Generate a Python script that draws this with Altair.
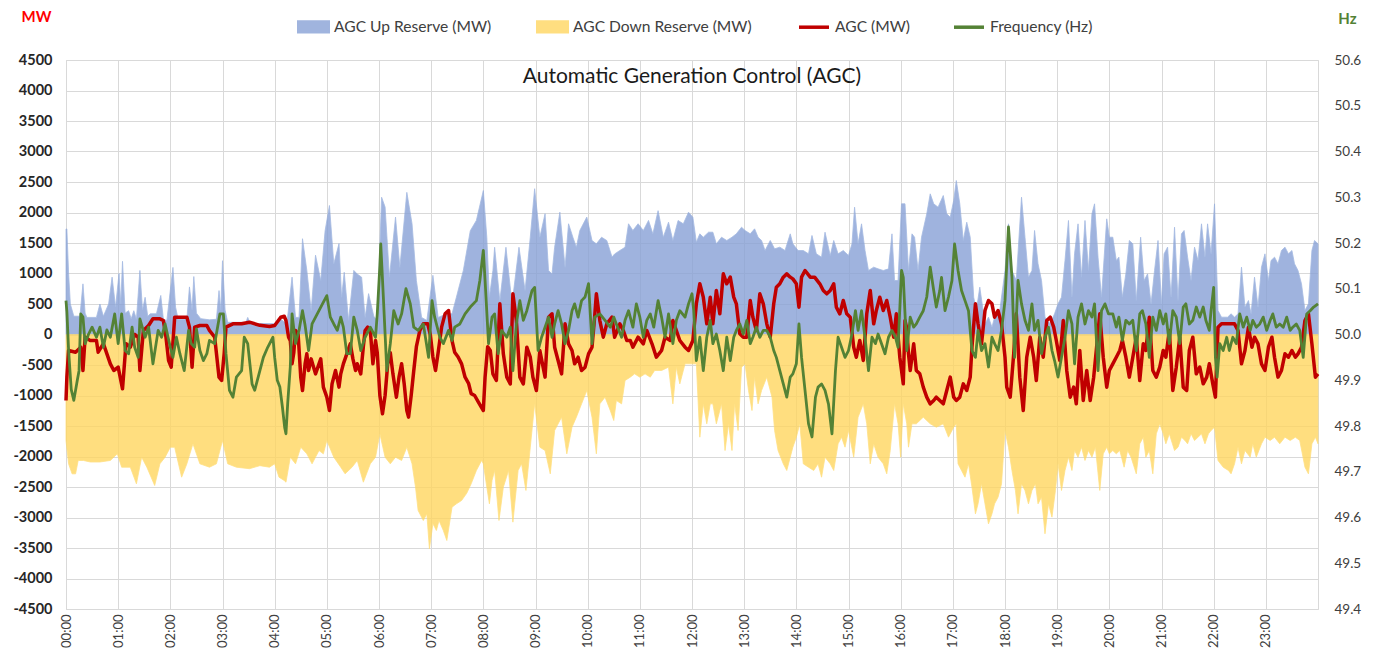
import altair as alt
import pandas as pd

# ---------------- data (time in minutes after 00:00, value) ----------------
up_reserve = [
    (0, 1730), (1, 1730), (3, 1000), (5, 500), (9, 300), (16, 300), (19.5, 830), (22, 350), (24, 280), (35, 280),
    (39, 500), (43, 300), (49, 500), (53, 940), (57, 450), (61, 1000), (63, 500), (65, 1200), (68, 350), (72, 390),
    (75, 260), (78, 390), (81, 250), (85, 1050), (88, 400), (91, 610), (94, 300), (97, 340), (104, 340), (109, 640),
    (112, 250), (116, 230), (123, 1100), (126, 450), (129, 250), (139, 250), (142, 780), (145, 400), (147, 950), (150, 350),
    (155, 260), (165, 240), (173, 250), (176, 720), (178, 400), (180, 1210), (183, 400), (186, 200), (207, 200), (209, 280),
    (212, 180), (235, 180),
    (240, 175), (247, 250), (254, 175), (260, 940), (264, 280), (268, 280), (272, 1570), (277, 1050), (282, 390), (287, 1300),
    (293, 885), (298, 1700), (303, 2115), (308, 1160), (314, 1490), (317, 610), (320, 1020), (325, 230), (331, 1050), (335, 990),
    (340, 940), (344, 280), (348, 670), (354, 300), (358, 230), (363, 2250), (367, 2090), (372, 940), (379, 1925), (384, 1100),
    (392, 2330), (398, 1815), (403, 885), (409, 280), (415, 230), (422, 970), (428, 280), (438, 340), (444, 340), (449, 610),
    (457, 1050), (465, 1700), (472, 1870), (480, 2360),
    (484, 1595), (487, 610), (491, 1050), (493, 1430), (499, 550), (506, 1430), (513, 500), (521, 1430), (528, 720), (534, 1595),
    (539, 2390), (545, 1595), (551, 1980), (555, 1050), (559, 990), (562, 1430), (568, 2005), (574, 1100), (578, 1815), (583, 1595),
    (587, 1430), (591, 1705), (599, 1925), (605, 1540), (610, 1486), (616, 1595), (622, 1540), (628, 1270), (631, 1320), (637, 1377),
    (643, 1430), (647, 1815), (652, 1705), (658, 1815), (664, 1705), (670, 1870), (675, 1650), (681, 2030), (687, 1595), (693, 1841),
    (698, 1540), (704, 1869), (710, 1814), (716, 2005), (721, 1923),
    (725, 1514), (729, 1650), (733, 1595), (739, 1677), (744, 1677), (748, 1486), (754, 1595), (760, 1541), (766, 1595), (771, 1650),
    (777, 1759), (781, 1705), (787, 1650), (792, 1732), (796, 1595), (800, 1541), (804, 1377), (810, 1541), (815, 1404), (821, 1432),
    (827, 1377), (833, 1650), (836, 1486), (842, 1377), (848, 1377), (854, 1322), (858, 1623), (863, 1322), (869, 1268), (873, 1677),
    (879, 1295), (883, 1541), (888, 1322), (894, 1377), (900, 1295), (904, 1486), (907, 2087), (911, 1486), (915, 1814), (919, 1377),
    (923, 1049), (929, 1104), (934, 1076), (940, 1049), (946, 1076), (950, 1650), (953, 885), (957, 885), (961, 2142),
    (965, 2142), (969, 1049), (973, 1650), (976, 1595), (980, 1049), (984, 1595), (990, 1978), (994, 2306), (998, 2142), (1003, 2087),
    (1009, 2278), (1013, 1978), (1017, 1923), (1021, 2197), (1024, 2524), (1028, 2142), (1032, 1541), (1036, 1841), (1040, 1595), (1044, 612),
    (1047, 393), (1051, 776), (1057, 175), (1061, 284), (1065, 120), (1068, 284), (1074, 393), (1080, 1049), (1084, 1814), (1088, 1049),
    (1093, 885), (1099, 2251), (1103, 1595), (1107, 940), (1111, 1049), (1114, 1705), (1118, 1158), (1122, 885), (1126, 284), (1132, 175),
    (1137, 339), (1141, 503), (1145, 612), (1149, 1213), (1153, 1869), (1157, 612), (1160, 1322), (1164, 1814), (1168, 940), (1172, 1869),
    (1176, 1049), (1180, 1978), (1183, 2142), (1187, 1268), (1191, 612), (1197, 1896),
    (1200, 1595), (1204, 1595), (1208, 1213), (1211, 1268), (1215, 612), (1219, 994), (1223, 1541), (1227, 1486), (1231, 557), (1236, 1595),
    (1240, 885), (1244, 994), (1248, 503), (1252, 1049), (1256, 1541), (1260, 503), (1263, 1322), (1267, 1432), (1271, 612), (1275, 1759),
    (1279, 557), (1283, 1650), (1286, 1705), (1290, 1268), (1294, 885), (1298, 1432), (1302, 1213), (1306, 1814), (1310, 1268), (1313, 1814),
    (1317, 1322), (1321, 2142), (1325, 393), (1329, 284), (1333, 284), (1336, 284), (1340, 339), (1344, 284), (1348, 339), (1352, 1104),
    (1356, 448), (1360, 557), (1363, 339), (1367, 940), (1371, 448), (1375, 1104), (1379, 1322), (1383, 885), (1386, 1213), (1390, 1268),
    (1394, 1158), (1398, 1377), (1402, 1432), (1406, 1322), (1410, 1377), (1413, 1158), (1417, 1049), (1421, 831), (1425, 393), (1429, 503),
    (1433, 1377), (1436, 1541), (1440, 1486),
]

down_reserve = [
    (0, -1740), (3, -2120), (7, -2284), (11, -2284), (14, -2065), (20, -2065), (28, -2090), (39, -2090), (51, -2065), (59, -1956),
    (64, -2175), (74, -2175), (81, -2448), (87, -2011), (93, -2175), (102, -2475), (108, -2120), (114, -2011), (120, -1847), (125, -1850),
    (133, -2339), (139, -2120), (146, -1792), (154, -2120), (165, -2175), (173, -2120), (180, -1738), (186, -2120), (196, -2175), (211, -2200),
    (223, -2150), (234, -2175),
    (240, -2120), (245, -2339), (251, -2393), (253, -2421), (258, -2011), (264, -2120), (270, -1847), (277, -1956), (283, -2120), (291, -1902),
    (296, -1956), (300, -1738), (308, -2011), (316, -2175), (321, -2284), (329, -2175), (335, -2065), (342, -2421), (350, -2120), (356, -2011),
    (361, -1628), (367, -2011), (373, -2120), (379, -2011), (386, -2065), (392, -1847), (398, -2120), (402, -2503), (405, -2885), (411, -3049),
    (415, -2940), (418, -3513), (422, -3100), (426, -3213), (429, -3049), (434, -3213), (438, -3377), (444, -2830), (449, -2776), (455, -2721),
    (461, -2600), (466, -2448), (472, -2229), (478, -2065),
    (480, -2120), (484, -2500), (487, -2776), (490, -2393), (493, -2229), (498, -3049), (503, -2503), (509, -2229), (514, -3076), (520, -2229),
    (524, -2120), (529, -2557), (534, -1847), (539, -1137), (545, -1847), (551, -1902), (557, -2284), (562, -1574), (570, -1355), (576, -1956),
    (582, -1519), (587, -1355), (593, -1137), (599, -918), (605, -1355), (610, -1956), (614, -1137), (620, -1027), (626, -1246), (630, -1410),
    (633, -1082), (639, -1137), (643, -754), (649, -699), (654, -645), (660, -699), (666, -645), (672, -699), (677, -590), (685, -590),
    (693, -535), (698, -1137), (702, -535), (706, -809), (712, -481), (718, -481),
    (720, -481), (725, -481), (729, -1683), (733, -1137), (737, -1464), (741, -1137), (744, -1137), (748, -1464), (754, -1137), (758, -1902),
    (762, -1464), (766, -1902), (769, -1137), (773, -1574), (777, -535), (781, -481), (785, -918), (789, -1246), (792, -699), (796, -1137),
    (800, -918), (806, -699), (812, -1027), (815, -1574), (819, -1902), (825, -2120), (829, -2229), (833, -2011), (836, -1847), (840, -1683),
    (844, -1464), (848, -2120), (854, -2175), (860, -2229), (865, -2120), (869, -2339), (873, -2011), (879, -2120), (883, -2229), (888, -1792),
    (892, -1683), (896, -1847), (900, -1574), (906, -2011), (911, -1355), (917, -1137), (921, -1464), (925, -2120), (929, -1792), (934, -2011),
    (940, -2120), (944, -2284), (948, -1902), (953, -1137), (957, -1464),
    (960, -2011), (963, -1137), (967, -1464), (969, -1847), (973, -1464), (978, -1464), (986, -1355), (994, -1464), (1001, -1519), (1009, -1464),
    (1015, -1683), (1021, -1519), (1024, -1464), (1026, -2120), (1030, -2229), (1034, -2339), (1038, -2120), (1042, -2503), (1046, -2940), (1049, -2776),
    (1053, -2448), (1057, -2776), (1061, -3104), (1065, -2940), (1068, -2776), (1072, -2666), (1076, -2448), (1080, -1574), (1084, -1847), (1088, -2229),
    (1092, -2557), (1095, -2940), (1099, -2448), (1103, -2557), (1107, -2776), (1111, -2557), (1115, -2448), (1118, -2776), (1122, -2666), (1126, -3267),
    (1130, -2776), (1134, -2994), (1138, -2557), (1141, -2120), (1145, -2557), (1149, -2229), (1153, -2011), (1157, -2229), (1160, -1902), (1164, -2011),
    (1168, -1847), (1172, -2065), (1176, -1902), (1180, -2011), (1184, -1847), (1189, -2557), (1193, -1956), (1197, -1847),
    (1200, -1956), (1204, -1902), (1208, -1956), (1212, -1902), (1217, -2175), (1221, -1902), (1225, -2011), (1231, -2284), (1235, -1792), (1239, -1683),
    (1242, -2011), (1246, -1902), (1250, -2284), (1254, -1628), (1258, -1464), (1262, -1628), (1265, -1792), (1269, -1628), (1275, -1902), (1279, -1847),
    (1283, -1683), (1287, -1738), (1290, -1792), (1294, -1628), (1298, -1738), (1302, -1683), (1306, -1628), (1310, -1792), (1314, -1628), (1317, -1574),
    (1321, -1519), (1325, -2065), (1331, -2175), (1337, -2229), (1340, -2284), (1344, -2120), (1348, -1847), (1352, -2120), (1356, -1902), (1362, -2011),
    (1365, -1792), (1369, -2011), (1375, -1792), (1379, -1683), (1385, -1738), (1390, -1683), (1396, -1792), (1402, -1683), (1408, -1738), (1414, -1683),
    (1419, -1738), (1425, -2175), (1429, -2284), (1433, -1792), (1437, -1683), (1440, -1792),
]

agc = [
    (0, -1082), (1, -700), (3, -262), (11, -290), (17, -208), (19.5, -590), (22, -44), (28, -100), (35, -100), (37, -290),
    (43, -150), (51, -481), (55, -590), (60, -535), (65, -891), (69, -150), (74, -208), (79, 0), (83, -44), (85, -590),
    (89, 66), (95, 148), (100, 257), (108, 257), (112, 229), (115, -44), (118, -426), (121, -535), (125, 284), (133, 284),
    (139, 284), (142, 120), (145, -535), (148, 120), (154, 148), (162, 148), (165, 66), (171, -44), (176, -700), (179, -754),
    (182, -300), (184, 120), (192, 175), (202, 175), (211, 202), (223, 150), (234, 130),
    (240, 148), (247, 284), (251, 300), (253, 230), (256, -44), (258, -100), (260, -481), (262, -300), (264, 66), (267, 0),
    (270, -700), (272, -918), (275, -481), (277, -317), (279, -590), (282, -400), (284, -500), (287, -645), (291, -481), (293, -400),
    (296, -863), (300, -1027), (303, -1246), (306, -809), (310, -590), (314, -863), (316, -645), (319, -481), (323, -317), (327, -153),
    (330, -400), (333, -590), (335, -480), (339, -645), (342, -200), (344, 66), (347, 120), (350, 66), (353, -480), (356, -100),
    (358, -300), (361, -1000), (364, -1300), (367, -1000), (370, -481), (373, -300), (376, -645), (380, -1027), (383, -700), (386, -481),
    (389, -810), (392, -1246), (394, -1355), (397, -1000), (400, -590), (403, -200), (407, 66), (411, 175), (416, 175), (419, 0),
    (422, -370), (425, -590), (428, -300), (432, 120), (436, 339), (440, 393), (444, -100), (447, -290), (451, -370), (455, -481),
    (459, -700), (463, -800), (466, -970), (470, -1000), (474, -1100), (478, -1200),
    (480, -1246), (482, -700), (485, -200), (488, -262), (491, -645), (495, -754), (499, 503), (503, -317), (507, -699), (511, -809),
    (514, 667), (518, 229), (522, -699), (526, -809), (530, -208), (534, -372), (537, -699), (541, -918), (545, -262), (551, -699),
    (555, 284), (559, 339), (562, -208), (566, -426), (570, -645), (574, 175), (578, -153), (582, -262), (585, -481), (589, -372),
    (593, -590), (597, -535), (601, -317), (605, -208), (608, 284), (610, 667), (614, 229), (618, -44), (622, 175), (628, 284),
    (631, -44), (637, 175), (641, 66), (645, -98), (649, -98), (652, -208), (658, -44), (664, -153), (668, 66), (674, -153),
    (679, -372), (685, -262), (689, -44), (695, -98), (698, 229), (702, 66), (706, -98), (712, -208), (716, -262), (721, -98),
    (725, 503), (729, 831), (733, 612), (737, 175), (741, 612), (744, 175), (748, 721), (752, 339), (756, 994), (760, 831),
    (764, 940), (768, 612), (771, 503), (775, 11), (779, -44), (783, -44), (787, 557), (790, 284), (794, 66), (798, 667),
    (802, 503), (806, 175), (810, -44), (814, 503), (817, 776), (821, 831), (825, 940), (829, 994), (833, 940), (836, 912),
    (840, 831), (843, 448), (846, 940), (850, 1049), (856, 940), (861, 940), (867, 831), (871, 721), (875, 667), (879, 721),
    (883, 831), (886, 448), (890, 339), (894, 557), (898, 339), (902, 284), (906, -208), (909, -372), (913, -98), (917, -426),
    (921, 339), (925, 721), (929, 175), (932, 393), (936, 612), (940, 393), (944, 557), (948, 284), (952, -44), (955, 339),
    (959, -372), (963, -809),
    (965, 229), (967, 100), (969, -317), (971, -590), (975, -153), (978, -590), (982, -645), (986, -863), (990, -1027), (994, -1137),
    (998, -1082), (1001, -1027), (1005, -1082), (1009, -1137), (1013, -918), (1017, -699), (1021, -1027), (1024, -1082), (1028, -1027), (1032, -809),
    (1036, -918), (1040, -699), (1042, -208), (1046, 503), (1049, 175), (1053, -153), (1057, 393), (1061, 557), (1065, 503), (1068, 284),
    (1072, 393), (1076, 175), (1080, -372), (1082, -863), (1086, -1027), (1090, -317), (1093, 339), (1097, -699), (1101, -1246), (1105, -372),
    (1109, -44), (1113, -372), (1116, -754), (1120, -44), (1124, -372), (1128, 229), (1132, 284), (1136, 120), (1139, -98), (1143, -426),
    (1147, 229), (1151, -590), (1155, -1027), (1159, -863), (1162, -1137), (1166, -262), (1170, -1082), (1174, -590), (1178, -1082), (1182, -699),
    (1185, -262), (1189, 339), (1193, -372), (1197, -863),
    (1200, -590), (1204, -481), (1208, -372), (1212, -262), (1215, -98), (1219, -372), (1223, -699), (1227, -372), (1231, -44), (1235, -754),
    (1239, -153), (1242, -262), (1246, 284), (1250, -590), (1254, -699), (1258, -535), (1262, -262), (1265, -372), (1269, 66), (1273, -918),
    (1277, -535), (1281, -44), (1285, -863), (1289, -918), (1292, -262), (1296, -44), (1300, -645), (1304, -535), (1308, -809), (1312, -699),
    (1315, -481), (1319, -809), (1322, -1027), (1325, 120), (1329, 175), (1333, 175), (1337, 175), (1340, 175), (1344, 175), (1348, 66),
    (1352, -481), (1356, -262), (1360, 120), (1364, -208), (1367, -44), (1371, -153), (1375, -481), (1379, -590), (1383, -208), (1387, -44),
    (1390, -372), (1394, -699), (1398, -590), (1402, -317), (1406, -372), (1410, -262), (1414, -372), (1417, -317), (1421, -208), (1425, 229),
    (1429, 339), (1433, -153), (1437, -699), (1440, -645),
]

frequency = [
    (0, 50.074), (1, 50.05), (3, 49.965), (6, 49.88), (9, 49.856), (13, 49.90), (15, 49.921), (17, 50.045), (19.5, 50.038), (22, 49.980),
    (26, 50.001), (30, 50.016), (35, 49.994), (39, 50.016), (43, 49.972), (47, 50.01), (51, 49.994), (56, 50.045), (60, 49.980), (64, 50.045),
    (68, 49.965), (72, 49.958), (76, 50.016), (79, 49.972), (83, 49.950), (85, 50.034), (91, 49.994), (95, 50.016), (100, 49.936), (106, 50.009),
    (110, 49.994), (114, 50.023), (120, 49.972), (123, 49.950), (127, 49.994), (131, 49.958), (136, 49.921), (141, 50.009), (144, 49.980), (148, 49.972),
    (150, 50.012), (154, 49.965), (158, 49.943), (162, 49.958), (165, 49.987), (171, 49.980), (177, 50.045), (181, 50.045), (184, 49.958), (188, 49.878),
    (192, 49.863), (196, 49.907), (202, 49.921), (205, 49.994), (209, 49.980), (214, 49.892), (217, 49.878), (223, 49.921), (227, 49.950), (232, 49.972),
    (238, 49.994),
    (240, 49.95), (243, 49.90), (246, 49.885), (249, 49.84), (251.5, 49.797), (253, 49.783), (255, 49.85), (258, 49.93), (260, 50.045), (264, 49.980),
    (268, 50.009), (272, 50.052), (275, 50.02), (279, 49.965), (283, 50.023), (289, 50.045), (295, 50.067), (300, 50.085), (304, 50.038), (308, 50.023),
    (312, 50.009), (316, 50.038), (319, 50.016), (323, 49.958), (327, 49.958), (331, 50.038), (335, 50.009), (339, 49.965), (344, 49.994), (350, 50.016),
    (356, 49.994), (358, 50.045), (361, 50.15), (362, 50.198), (365, 50.082), (369, 49.921), (373, 49.980), (377, 50.052), (382, 50.023), (386, 50.045),
    (391, 50.100), (396, 50.067), (400, 50.016), (405, 50.009), (411, 50.023), (417, 49.950), (421, 50.074), (424, 50.038), (430, 49.994), (434, 49.980),
    (440, 50.009), (444, 49.987), (447, 50.016), (453, 50.023), (459, 50.045), (465, 50.060), (472, 50.074), (476, 50.118), (480, 50.184),
    (482, 50.118), (486, 49.980), (490, 50.038), (493, 50.045), (497, 49.958), (501, 50.009), (507, 49.994), (511, 50.016), (514, 49.921), (518, 50.023),
    (522, 50.074), (526, 50.031), (530, 50.052), (536, 50.096), (539, 50.103), (543, 49.965), (547, 49.994), (551, 50.016), (555, 50.038), (559, 49.994),
    (562, 50.023), (566, 50.052), (570, 50.023), (574, 49.980), (578, 50.009), (582, 50.052), (585, 50.067), (589, 50.038), (593, 50.074), (597, 50.082),
    (601, 50.111), (605, 49.980), (608, 50.038), (614, 50.045), (620, 50.031), (626, 50.016), (630, 50.038), (633, 50.023), (639, 49.994), (643, 50.031),
    (647, 50.052), (652, 50.016), (656, 50.067), (660, 50.038), (664, 49.994), (668, 50.031), (672, 50.045), (676, 50.016), (681, 50.074), (685, 50.038),
    (689, 49.994), (693, 50.045), (698, 49.980), (702, 50.031), (706, 50.052), (712, 50.038), (716, 50.067), (720, 50.089),
    (722, 50.052), (725, 49.943), (729, 49.994), (733, 49.921), (737, 49.994), (741, 50.031), (744, 49.980), (748, 50.001), (752, 49.965), (756, 49.921),
    (760, 49.994), (764, 49.943), (768, 49.994), (771, 50.009), (775, 50.023), (779, 50.001), (783, 50.031), (787, 49.980), (790, 49.994), (794, 50.016),
    (798, 49.994), (802, 50.009), (806, 50.009), (810, 49.994), (814, 49.965), (817, 49.950), (821, 49.921), (825, 49.892), (829, 49.863), (833, 49.907),
    (836, 49.914), (840, 49.936), (843, 50.023), (846, 49.950), (850, 49.878), (854, 49.805), (858, 49.776), (862, 49.863), (865, 49.885), (869, 49.892),
    (873, 49.878), (877, 49.848), (881, 49.783), (885, 49.921), (888, 49.994), (892, 49.972), (896, 49.950), (900, 49.965), (904, 50.001), (908, 50.052),
    (911, 50.009), (915, 50.052), (919, 49.994), (923, 49.921), (927, 49.994), (931, 49.980), (934, 50.001), (938, 49.980), (942, 49.958), (946, 49.994),
    (950, 50.009), (954, 49.994), (957, 49.972), (961, 50.140),
    (963, 50.125), (967, 49.965), (971, 50.038), (975, 50.016), (978, 50.023), (982, 50.038), (986, 50.052), (990, 50.082), (994, 50.147), (998, 50.096),
    (1001, 50.060), (1005, 50.096), (1007, 50.125), (1011, 50.052), (1015, 50.082), (1019, 50.118), (1022, 50.198), (1026, 50.140), (1030, 50.096), (1034, 50.074),
    (1038, 50.052), (1042, 49.965), (1046, 49.950), (1049, 50.009), (1053, 49.965), (1057, 49.980), (1061, 49.929), (1065, 49.994), (1068, 49.980), (1072, 49.965),
    (1076, 50.009), (1080, 50.074), (1084, 50.235), (1088, 50.125), (1091, 49.950), (1095, 50.118), (1099, 50.067), (1103, 50.031), (1107, 50.009), (1111, 50.067),
    (1114, 50.009), (1118, 50.031), (1122, 49.958), (1126, 49.994), (1130, 50.016), (1134, 49.965), (1137, 49.943), (1141, 49.907), (1145, 49.950), (1149, 49.994),
    (1153, 50.052), (1157, 50.023), (1160, 49.936), (1164, 50.038), (1168, 50.067), (1172, 50.023), (1176, 50.052), (1180, 50.038), (1183, 50.067), (1187, 49.921),
    (1191, 50.052), (1195, 50.067), (1199, 50.045),
    (1204, 50.045), (1208, 50.016), (1211, 50.038), (1215, 49.987), (1219, 50.031), (1223, 50.023), (1227, 50.031), (1231, 49.965), (1235, 50.045), (1238, 50.052),
    (1242, 50.023), (1246, 49.950), (1250, 50.038), (1254, 50.009), (1258, 50.052), (1262, 50.023), (1265, 50.045), (1269, 49.980), (1273, 50.052), (1277, 50.038),
    (1281, 49.980), (1285, 50.060), (1288, 50.067), (1292, 50.023), (1296, 50.031), (1300, 50.060), (1304, 50.038), (1308, 50.060), (1311, 50.031), (1315, 50.009),
    (1317, 50.052), (1320, 50.103), (1322, 49.950), (1324, 49.907), (1327, 49.980), (1331, 49.965), (1335, 49.994), (1338, 49.965), (1342, 49.994), (1346, 49.980),
    (1350, 50.045), (1354, 50.016), (1358, 50.038), (1362, 50.009), (1365, 50.031), (1369, 50.016), (1373, 50.023), (1377, 50.038), (1381, 50.009), (1385, 50.031),
    (1388, 50.045), (1392, 50.016), (1396, 50.023), (1400, 50.016), (1404, 50.038), (1408, 50.009), (1411, 50.016), (1415, 50.023), (1419, 50.009), (1423, 49.950),
    (1427, 50.045), (1431, 50.052), (1435, 50.060), (1440, 50.067),
]

series_names = ["AGC Up Reserve (MW)", "AGC Down Reserve (MW)", "AGC (MW)", "Frequency (Hz)"]
hour_ticks = list(range(0, 1440, 60))
mw_ticks = list(range(-4500, 4501, 500))
hz_ticks = [49.4, 49.5, 49.6, 49.7, 49.8, 49.9, 50.0, 50.1, 50.2, 50.3, 50.4, 50.5, 50.6]
chart_title = "Automatic Generation Control (AGC)"

# ---------------- styling ----------------
FONT = "Lato"
BLUE = "#88A1D6"
YELLOW = "#FFD660"
RED = "#C00000"
GREEN = "#548235"
GRID = "#D9D9D9"
TEXT = "#404040"


def frame(pairs, name):
    return pd.DataFrame({"t": [p[0] for p in pairs], "v": [p[1] for p in pairs], "series": name})


up_df = frame(up_reserve, series_names[0])
down_df = frame(down_reserve, series_names[1])
agc_df = frame(agc, series_names[2])
freq_df = frame(frequency, series_names[3])

x_enc = alt.X(
    "t:Q",
    scale=alt.Scale(domain=[0, 1440], nice=False, zero=False),
    axis=alt.Axis(
        values=hour_ticks,
        labelExpr="(datum.value < 600 ? '0' : '') + floor(datum.value / 60) + ':00'",
        labelAngle=-90, labelFont=FONT, labelFontSize=13, labelColor=TEXT, labelPadding=5,
        grid=True, gridColor=GRID, ticks=False, domain=False, title=None,
    ),
)

mw_scale = alt.Scale(domain=[-4500, 4500], nice=False, zero=False)
mw_axis = alt.Axis(
    values=mw_ticks, labelExpr="'' + datum.value", labelFont=FONT, labelFontSize=14.5,
    labelFontWeight="bold", labelColor="#262626", labelPadding=14,
    grid=True, gridColor=GRID, ticks=False, domain=False,
    title="MW", titleAngle=0, titleX=-30, titleY=-44, titleAlign="center", titleBaseline="middle",
    titleColor="#FF0000", titleFontWeight="bold", titleFont=FONT, titleFontSize=15,
)
y_mw = alt.Y("v:Q", scale=mw_scale, axis=mw_axis)

fill_scale = alt.Scale(domain=series_names[:2], range=[BLUE, YELLOW])
fill_legend = alt.Legend(
    title=None, orient="none", legendX=231, legendY=-50, direction="horizontal",
    symbolType="M-1,-0.4H1V0.4H-1Z", symbolSize=1089, symbolStrokeWidth=0,
    labelFont=FONT, labelFontSize=15.6, labelColor=TEXT, labelOffset=4, labelLimit=400,
    columnPadding=44, padding=0,
)
stroke_scale = alt.Scale(domain=series_names[2:], range=[RED, GREEN])
stroke_legend = alt.Legend(
    title=None, orient="none", legendX=731, legendY=-50, direction="horizontal",
    symbolType="stroke", symbolSize=900, symbolStrokeWidth=3.5,
    labelFont=FONT, labelFontSize=15.6, labelColor=TEXT, labelOffset=4, labelLimit=400,
    columnPadding=36, padding=0,
)

up_area = alt.Chart(up_df).mark_area(opacity=0.8, stroke="#8FAADC", strokeWidth=0.8).encode(
    x=x_enc, y=y_mw, fill=alt.Fill("series:N", scale=fill_scale, legend=fill_legend)
)
down_area = alt.Chart(down_df).mark_area(opacity=0.8, stroke="#FFD966", strokeWidth=0.8).encode(
    x=x_enc, y=y_mw, fill=alt.Fill("series:N", scale=fill_scale, legend=fill_legend)
)
agc_line = alt.Chart(agc_df).mark_line(strokeWidth=3.5, strokeJoin="round").encode(
    x=x_enc, y=y_mw, stroke=alt.Stroke("series:N", scale=stroke_scale, legend=stroke_legend)
)
title_text = alt.Chart(pd.DataFrame({"label": [chart_title]})).mark_text(
    font=FONT, fontSize=21, color="#1A1A1A", align="center", baseline="middle"
).encode(text="label:N", x=alt.value(626), y=alt.value(17))

hz_axis = alt.Axis(
    orient="right", values=hz_ticks, format=".1f", labelFont=FONT, labelFontSize=13.5,
    labelColor=TEXT, labelPadding=16, grid=False, ticks=False, domain=False,
    title="Hz", titleAngle=0, titleX=29, titleY=-42, titleAlign="center", titleBaseline="middle",
    titleColor=GREEN, titleFontWeight="bold", titleFont=FONT, titleFontSize=15,
)
freq_line = alt.Chart(freq_df).mark_line(strokeWidth=2.8, strokeJoin="round").encode(
    x=x_enc,
    y=alt.Y("v:Q", scale=alt.Scale(domain=[49.4, 50.6], nice=False, zero=False), axis=hz_axis),
    stroke=alt.Stroke("series:N", scale=stroke_scale, legend=stroke_legend),
)

inner = alt.layer(up_area, down_area, agc_line, title_text)
chart = (
    alt.layer(inner, freq_line)
    .resolve_scale(y="independent")
    .properties(width=1252, height=549, padding={"left": 4, "top": 1, "right": 5, "bottom": 0}, background="white")
    .configure_view(stroke=GRID)
)

chart.save("out.html", embed_options={"renderer": "svg", "actions": False})
